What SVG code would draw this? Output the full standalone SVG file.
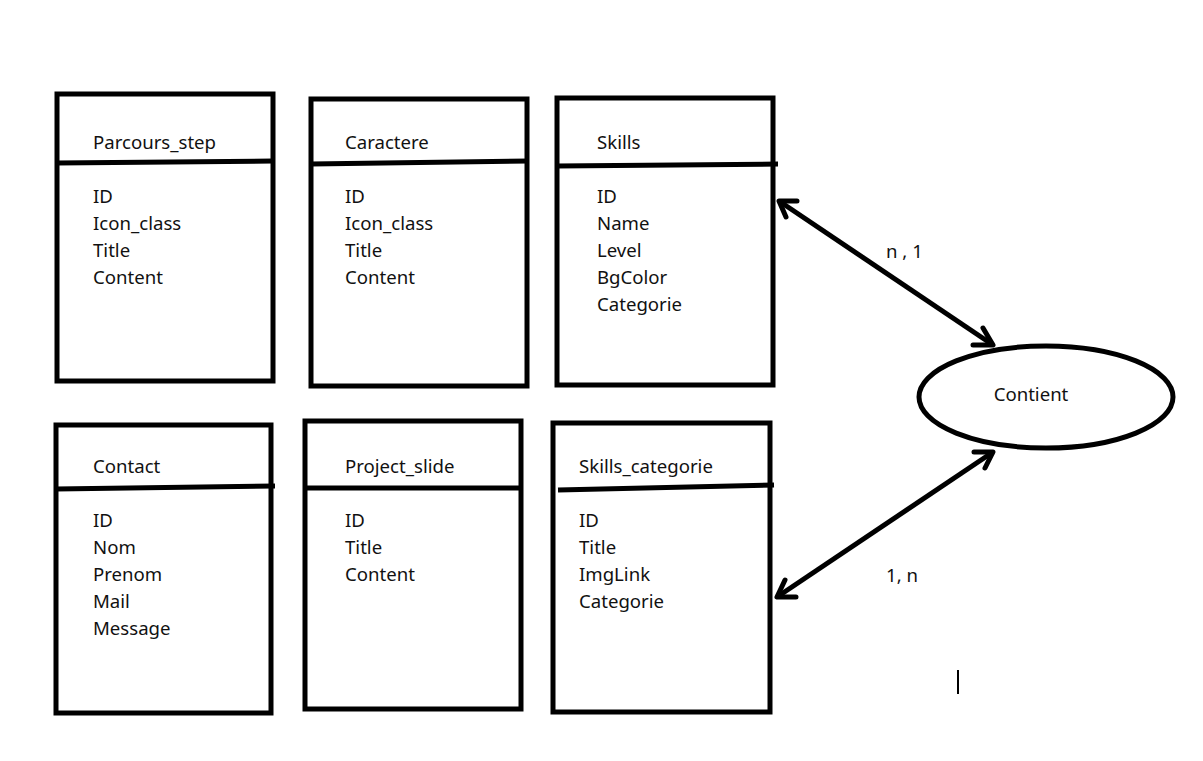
<svg xmlns="http://www.w3.org/2000/svg" width="1203" height="761" viewBox="0 0 1203 761">
  <style>
    .box { fill: #fff; stroke: #000; stroke-width: 5; }
    .sep { stroke: #000; stroke-width: 5; fill: none; }
    .t { font-family: "Noto Sans", "Liberation Sans", sans-serif; font-size: 18.6px; fill: #111; }
    .link { stroke: #000; stroke-width: 5; fill: none; }
    .head { stroke: #000; stroke-width: 5; fill: none; stroke-linecap: round; stroke-linejoin: round; }
  </style>
  <rect width="1203" height="761" fill="#fff"/>

  <g id="parcours_step">
    <rect class="box" x="57" y="94" width="216" height="287"/>
    <line class="sep" x1="57" y1="163" x2="273" y2="161"/>
    <text class="t" x="93" y="149">Parcours_step</text>
    <text class="t" x="93" y="203">ID</text>
    <text class="t" x="93" y="230">Icon_class</text>
    <text class="t" x="93" y="257">Title</text>
    <text class="t" x="93" y="284">Content</text>
  </g>

  <g id="caractere">
    <rect class="box" x="311" y="99" width="216" height="287"/>
    <line class="sep" x1="311" y1="164" x2="529" y2="161"/>
    <text class="t" x="345" y="149">Caractere</text>
    <text class="t" x="345" y="203">ID</text>
    <text class="t" x="345" y="230">Icon_class</text>
    <text class="t" x="345" y="257">Title</text>
    <text class="t" x="345" y="284">Content</text>
  </g>

  <g id="skills">
    <rect class="box" x="557" y="98" width="216" height="287"/>
    <line class="sep" x1="557" y1="166" x2="778" y2="164"/>
    <text class="t" x="597" y="149">Skills</text>
    <text class="t" x="597" y="203">ID</text>
    <text class="t" x="597" y="230">Name</text>
    <text class="t" x="597" y="257">Level</text>
    <text class="t" x="597" y="284">BgColor</text>
    <text class="t" x="597" y="311">Categorie</text>
  </g>

  <g id="contact">
    <rect class="box" x="56" y="425" width="215" height="288"/>
    <line class="sep" x1="56" y1="489" x2="275" y2="486"/>
    <text class="t" x="93" y="473">Contact</text>
    <text class="t" x="93" y="527">ID</text>
    <text class="t" x="93" y="554">Nom</text>
    <text class="t" x="93" y="581">Prenom</text>
    <text class="t" x="93" y="608">Mail</text>
    <text class="t" x="93" y="635">Message</text>
  </g>

  <g id="project_slide">
    <rect class="box" x="305" y="421" width="216" height="288"/>
    <line class="sep" x1="305" y1="488" x2="521" y2="488"/>
    <text class="t" x="345" y="473">Project_slide</text>
    <text class="t" x="345" y="527">ID</text>
    <text class="t" x="345" y="554">Title</text>
    <text class="t" x="345" y="581">Content</text>
  </g>

  <g id="skills_categorie">
    <rect class="box" x="553" y="423" width="217" height="289"/>
    <line class="sep" x1="558" y1="490" x2="774" y2="485"/>
    <text class="t" x="579" y="473">Skills_categorie</text>
    <text class="t" x="579" y="527">ID</text>
    <text class="t" x="579" y="554">Title</text>
    <text class="t" x="579" y="581">ImgLink</text>
    <text class="t" x="579" y="608">Categorie</text>
  </g>

  <g id="contient">
    <ellipse class="box" cx="1046" cy="397" rx="127" ry="51"/>
    <text class="t" x="1031" y="401" text-anchor="middle">Contient</text>
  </g>

  <g id="connectors">
    <!-- Skills <-> Contient -->
    <line class="link" x1="779" y1="201" x2="993" y2="345"/>
    <polyline class="head" points="797,201 779,201 786,217"/>
    <polyline class="head" points="983,328 993,345 973,345"/>
    <!-- Skills_categorie <-> Contient -->
    <line class="link" x1="777" y1="597" x2="993" y2="452"/>
    <polyline class="head" points="785,580 777,597 796,597"/>
    <polyline class="head" points="974,452 993,452 985,468"/>
    <text class="t" x="886" y="258">n , 1</text>
    <text class="t" x="886" y="582">1, n</text>
  </g>

  <line x1="958" y1="670" x2="958" y2="694" stroke="#000" stroke-width="2"/>
</svg>
